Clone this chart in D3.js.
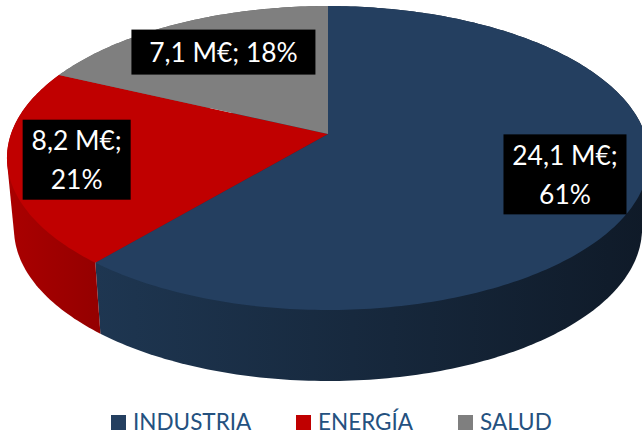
<!DOCTYPE html>
<html>
<head>
<meta charset="utf-8">
<script src="https://cdn.jsdelivr.net/npm/d3@7"></script>
<style>
  html, body { margin: 0; padding: 0; background: #fff; }
  svg { display: block; font-family: Lato, "Open Sans", sans-serif; }
</style>
</head>
<body>
<svg id="chart"></svg>
<script>
// data
const categories = ["INDUSTRIA", "ENERGÍA", "SALUD"];
const values = [24.1, 8.2, 7.1];
const shares = [61, 21, 18];
const valueLabels = [["24,1 M€;", "61%"], ["8,2 M€;", "21%"], ["7,1 M€; 18%"]];
const topColors = ["#243f60", "#c00000", "#7f7f7f"];
const wallLeft = ["#1e3651", "#aa0000", "#6a6a6a"];
const wallRight = ["#0f1a28", "#940000", "#555555"];

const svgWidth = 642;
const svgHeight = 434;

const svg = d3.select("#chart").attr("width", svgWidth).attr("height", svgHeight);
const defs = svg.append("defs");

const color = d3.scaleOrdinal().domain(categories).range(topColors);

const slices = d3
  .pie()
  .value((d) => d.value)
  .sort(null)
  .startAngle(0)
  .endAngle(2 * Math.PI)(
  categories.map((c, i) => ({ name: c, value: values[i], share: shares[i], i: i }))
);

// tilted disc: a circle pushed through a perspective transform
const apexX = 328;
const apexY = 134;
const scaleU = 317;
const scaleV = 127;
const persp = 0.158;
const depth = 71;
const depthShrink = 0.978;

function rim(angle, r) {
  const u = r * Math.sin(angle);
  const v = r * Math.cos(angle);
  const w = 1 + persp * v;
  return [apexX + (scaleU * u) / w, (apexY - scaleV * v) / w];
}

function lower(p) {
  return [apexX + (p[0] - apexX) * depthShrink, p[1] + depth];
}

function arcPoints(d) {
  const n = Math.ceil((d.endAngle - d.startAngle) * 60);
  return d3.range(n + 1).map((k) => {
    const a = d.startAngle + ((d.endAngle - d.startAngle) * k) / n;
    return rim(a, 1);
  });
}

const line = d3.line();

// side walls first; the hull of both rims, the top faces hide what is not wall
slices.forEach((d) => {
  const top = arcPoints(d);
  const all = top.concat(top.map(lower));
  const ext = d3.extent(all, (p) => p[0]);
  const grad = defs
    .append("linearGradient")
    .attr("id", "wall" + d.data.i)
    .attr("gradientUnits", "userSpaceOnUse")
    .attr("x1", ext[0])
    .attr("x2", ext[1])
    .attr("y1", 0)
    .attr("y2", 0);
  grad.append("stop").attr("offset", 0).attr("stop-color", wallLeft[d.data.i]);
  grad.append("stop").attr("offset", 1).attr("stop-color", wallRight[d.data.i]);
  svg
    .append("path")
    .attr("d", line(d3.polygonHull(all)) + "Z")
    .attr("fill", "url(#wall" + d.data.i + ")");
});

// top faces
svg
  .selectAll("path.face")
  .data(slices)
  .enter()
  .append("path")
  .attr("class", "face")
  .attr("d", (d) => line([[apexX, apexY]].concat(arcPoints(d))) + "Z")
  .attr("fill", (d) => color(d.data.name));

// value labels: black boxes with white text
const labelRadius = [0.76, 0.79, 0.67];
const labelShift = [0, 0, -5];
const labelNudge = [1, 0, 0];
const labelSize = [[123, 80], [108, 80], [184, 45]];
const labelFont = 26.4;
const labelLine = 39;

slices.forEach((d, i) => {
  const mid = (d.startAngle + d.endAngle) / 2;
  const c = rim(mid, labelRadius[i]);
  const cx = c[0] + labelNudge[i];
  const cy = c[1] + labelShift[i];
  const g = svg.append("g");
  g.append("rect")
    .attr("x", cx - labelSize[i][0] / 2)
    .attr("y", cy - labelSize[i][1] / 2)
    .attr("width", labelSize[i][0])
    .attr("height", labelSize[i][1])
    .attr("fill", "#000");
  const rows = valueLabels[i];
  g.selectAll("text")
    .data(rows)
    .enter()
    .append("text")
    .attr("x", cx)
    .attr("y", (t, k) => cy + (k - (rows.length - 1) / 2) * labelLine + labelFont * 0.38)
    .attr("text-anchor", "middle")
    .attr("font-size", labelFont)
    .attr("fill", "#fff")
    .text((t) => t);
});

// legend
const legendX = [111, 296, 458];
const legend = svg
  .selectAll("g.legend")
  .data(categories)
  .enter()
  .append("g")
  .attr("class", "legend")
  .attr("transform", (d, i) => "translate(" + legendX[i] + ",415)");

legend.append("rect").attr("width", 15).attr("height", 15).attr("fill", (d) => color(d));

legend
  .append("text")
  .attr("x", 22)
  .attr("y", 14.5)
  .attr("font-size", 22.5)
  .attr("fill", "#24517f")
  .text((d) => d);
</script>
</body>
</html>
